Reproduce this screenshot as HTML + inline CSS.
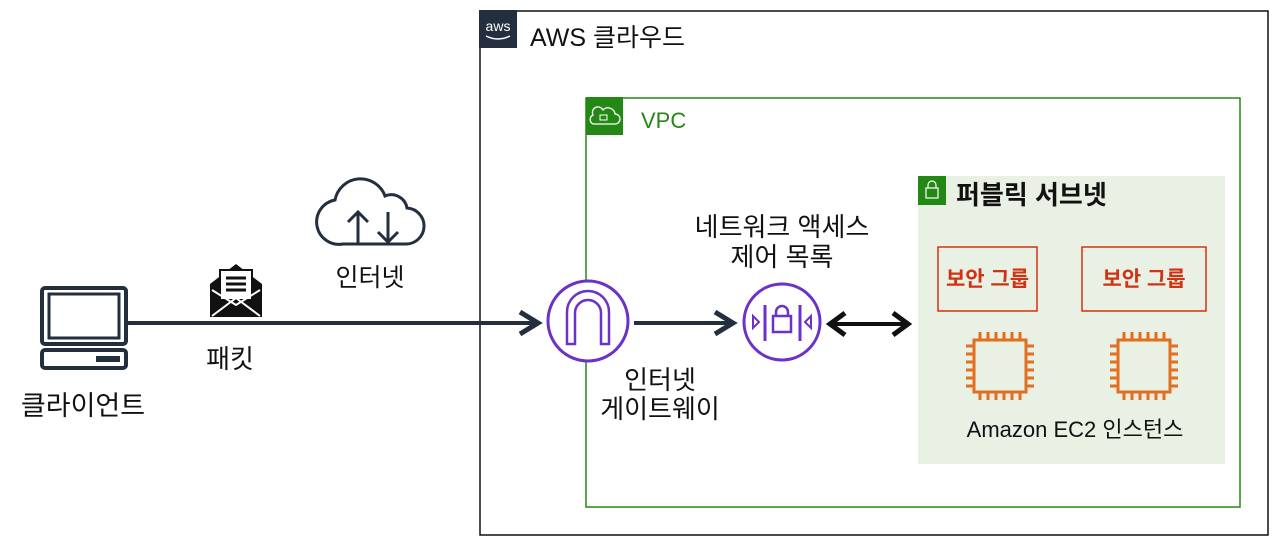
<!DOCTYPE html>
<html><head><meta charset="utf-8"><style>
body{margin:0;width:1280px;height:552px;background:#fff;overflow:hidden;position:relative;font-family:"Liberation Sans","Noto Sans CJK KR",sans-serif}
.t{position:absolute;white-space:nowrap;color:#111}
</style></head><body>
<svg width="1280" height="552" style="position:absolute;left:0;top:0">
<rect x="480" y="11" width="788" height="524" fill="none" stroke="#111" stroke-width="1.5"/>
<rect x="479" y="10" width="38" height="38" fill="#232f3e"/>
<text x="498" y="31" font-size="14" fill="#fff" text-anchor="middle" font-family="Liberation Sans">aws</text>
<path d="M486 36 q12 6 24 0" stroke="#fff" stroke-width="1.5" fill="none"/>
<rect x="586" y="98" width="654" height="409" fill="none" stroke="#248814" stroke-width="1.5"/>
<rect x="586" y="97" width="37" height="38" fill="#248814"/>
<path d="M593 124 h22 a5 5 0 0 0 0-10 a7 7 0 0 0-12-4 a5 5 0 0 0-10 5 a5 5 0 0 0 0 9z" fill="none" stroke="#fff" stroke-width="1.3"/>
<rect x="600" y="115" width="7" height="5" fill="none" stroke="#fff"/>
<rect x="918" y="176" width="307" height="288" fill="#e9f0e4"/>
<rect x="918" y="176" width="28" height="29" fill="#248814"/>
<rect x="926" y="188" width="12" height="10" fill="none" stroke="#fff" stroke-width="1.2"/>
<path d="M928 188 v-3 a4 4 0 0 1 8 0 v3" fill="none" stroke="#fff" stroke-width="1.2"/>
<rect x="938" y="247" width="99" height="64" fill="none" stroke="#d13212" stroke-width="1.5"/>
<rect x="1082" y="247" width="124" height="64" fill="none" stroke="#d13212" stroke-width="1.5"/>
<g id="chip" stroke="#e07020" stroke-width="3" fill="none">
<rect x="974" y="340" width="52" height="52"/>
<path d="M980 340v-8M988 340v-8M996 340v-8M1004 340v-8M1012 340v-8M1020 340v-8M980 392v8M988 392v8M996 392v8M1004 392v8M1012 392v8M1020 392v8M974 346h-8M974 354h-8M974 362h-8M974 370h-8M974 378h-8M974 386h-8M1026 346h8M1026 354h8M1026 362h8M1026 370h8M1026 378h8M1026 386h8"/>
</g>
<use href="#chip" x="144"/>
<rect x="42" y="288" width="84" height="56" rx="3" fill="none" stroke="#232f3e" stroke-width="4"/>
<rect x="49" y="294" width="70" height="44" fill="none" stroke="#232f3e" stroke-width="3"/>
<rect x="42" y="350" width="84" height="18" rx="3" fill="none" stroke="#232f3e" stroke-width="4"/>
<rect x="96" y="356" width="24" height="6" fill="#232f3e"/>
<path d="M210 317 V284 L236 264 L262 284 V317Z" fill="#111"/>
<rect x="220" y="270" width="32" height="30" fill="#fff" stroke="#111" stroke-width="2"/>
<path d="M226 278h20M226 284h20M226 290h20" stroke="#111" stroke-width="3"/>
<path d="M212 316 L236 298 L260 316 M212 290 L236 305 L260 290" stroke="#fff" stroke-width="2" fill="none"/>
<path d="M343 244 h62 a18 18 0 0 0 2-36 a16 16 0 0 0-22-12 a26 26 0 0 0-50 4 a22 22 0 0 0 8 44z" fill="none" stroke="#232f3e" stroke-width="3"/>
<path d="M358 244 V212 M348 222 l10-10 l10 10 M388 212 V242 M378 232 l10 10 l10-10" fill="none" stroke="#232f3e" stroke-width="3"/>
<line x1="126" y1="323" x2="538" y2="323" stroke="#232f3e" stroke-width="4"/>
<path d="M520 312 l18 11 l-18 11" fill="none" stroke="#232f3e" stroke-width="5"/>
<line x1="634" y1="323" x2="733" y2="323" stroke="#232f3e" stroke-width="4"/>
<path d="M715 312 l18 11 l-18 11" fill="none" stroke="#232f3e" stroke-width="5"/>
<line x1="829" y1="324" x2="908" y2="324" stroke="#111" stroke-width="4"/>
<path d="M845 313 l-15 11 l15 11 M893 313 l15 11 l-15 11" fill="none" stroke="#111" stroke-width="5"/>
<circle cx="588" cy="321" r="40" fill="#fff" stroke="#6c32c8" stroke-width="3"/>
<path d="M567 344 V312 a21 21 0 0 1 42 0 V344 h-8 V313 a13 13 0 0 0-26 0 V344z" fill="none" stroke="#6c32c8" stroke-width="2.5"/>
<circle cx="782" cy="322" r="38" fill="#fff" stroke="#6c32c8" stroke-width="3"/>
<path d="M765 305 v36 M800 305 v36" stroke="#6c32c8" stroke-width="3"/>
<rect x="773" y="316" width="18" height="16" fill="none" stroke="#6c32c8" stroke-width="2.5"/>
<path d="M776 316 v-4 a6 6 0 0 1 12 0 v4" fill="none" stroke="#6c32c8" stroke-width="2.5"/>
<path d="M753 316 l6 6 l-6 6z M811 316 l-6 6 l6 6z" fill="none" stroke="#6c32c8" stroke-width="2"/>
</svg>
<div class="t" style="left:530px;top:18px;font-size:25px">AWS 클라우드</div>
<div class="t" style="left:641px;top:108px;font-size:22px;color:#248814">VPC</div>
<div class="t" style="left:956px;top:175px;font-size:26px;font-weight:bold">퍼블릭 서브넷</div>
<div class="t" style="left:938px;top:263px;width:99px;text-align:center;font-size:21px;font-weight:bold;color:#d13212">보안 그룹</div>
<div class="t" style="left:1082px;top:263px;width:124px;text-align:center;font-size:21px;font-weight:bold;color:#d13212">보안 그룹</div>
<div class="t" style="left:925px;top:412px;width:300px;text-align:center;font-size:22px">Amazon EC2 인스턴스</div>
<div class="t" style="left:640px;top:212px;width:284px;text-align:center;font-size:26px;line-height:30px;white-space:normal">네트워크 액세스<br>제어 목록</div>
<div class="t" style="left:560px;top:366px;width:200px;text-align:center;font-size:26px;line-height:29px;white-space:normal">인터넷<br>게이트웨이</div>
<div class="t" style="left:310px;top:258px;width:120px;text-align:center;font-size:25px">인터넷</div>
<div class="t" style="left:184px;top:339px;width:92px;text-align:center;font-size:26px">패킷</div>
<div class="t" style="left:0px;top:384px;width:166px;text-align:center;font-size:27px">클라이언트</div>
</body></html>
